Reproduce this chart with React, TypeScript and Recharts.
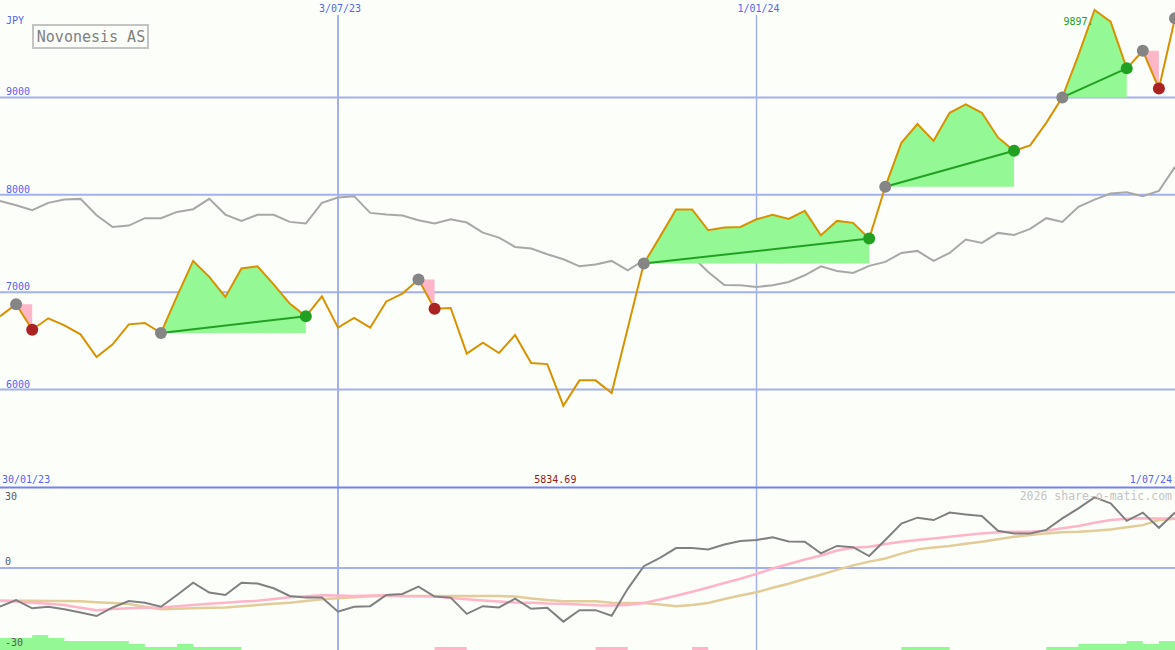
import React from "react";
import { Area, ComposedChart, Line, ReferenceDot, ReferenceLine, XAxis, YAxis } from "recharts";

const BG = "#fcfefa";
const GRID = "#a4b0f0";
const BLUE_TXT = "#5464f4";
const FONT = "'DejaVu Sans Mono', monospace";
const W = 1175;
const TOP_H = 487;
const BOTTOM_H = 163;

// weekly closes, one per week from the left edge
const price = [
  6752, 6876, 6615, 6732, 6660, 6567, 6334, 6465, 6670, 6684,
  6581, 6960, 7321, 7157, 6951, 7243, 7266, 7081, 6883, 6752,
  6958, 6636, 6735, 6636, 6905, 6986, 7130, 6831, 6838, 6369,
  6482, 6376, 6560, 6273, 6262, 5834.69, 6095, 6095, 5965, 6630,
  7294, 7568, 7849, 7849, 7636, 7664, 7670, 7749, 7794, 7753,
  7835, 7585, 7732, 7712, 7551, 8082, 8534, 8726, 8554, 8842,
  8928, 8842, 8589, 8452, 8507, 8739, 9000, 9435, 9897.3, 9777,
  9298, 9479, 9092, 9812,
];

const average = [
  7937, 7893, 7842, 7917, 7951, 7958, 7790, 7670, 7684, 7760,
  7760, 7824, 7852, 7958, 7797, 7732, 7794, 7794, 7722, 7705,
  7917, 7972, 7986, 7814, 7797, 7787, 7739, 7705, 7749, 7715,
  7612, 7561, 7465, 7448, 7390, 7338, 7266, 7284, 7321, 7225,
  7328, 7379, 7362, 7369, 7208, 7074, 7071, 7054, 7071, 7105,
  7174, 7266, 7218, 7198, 7270, 7311, 7403, 7424, 7321, 7403,
  7541, 7506, 7609, 7588, 7650, 7760, 7722, 7876, 7951, 8013,
  8027, 7986, 8040, 8287,
];

const momentum = [
  -14.5, -12.0, -15.1, -14.5, -15.5, -16.7, -18.0, -14.8, -12.4, -13.0,
  -14.5, -10.1, -5.5, -9.2, -10.1, -5.5, -5.8, -7.6, -10.5, -11.1,
  -11.1, -16.4, -14.5, -14.3, -10.1, -9.7, -7.0, -10.7, -11.1, -17.2,
  -14.3, -14.8, -11.5, -15.3, -14.9, -20.1, -15.8, -15.8, -17.9, -7.8,
  0.7, 3.8, 7.5, 7.5, 7.0, 8.8, 10.1, 10.5, 11.5, 10.0,
  9.9, 5.5, 8.3, 7.8, 4.5, 10.5, 16.7, 18.9, 18.0, 20.8,
  20.1, 19.5, 14.0, 13.0, 13.0, 14.3, 18.6, 22.4, 26.5, 24.3,
  17.7, 20.8, 15.1, 20.8,
];

const signalFast = [
  -12.3, -12.6, -13.0, -13.4, -13.9, -14.9, -15.8, -15.4, -15.1, -14.9,
  -14.8, -14.3, -13.9, -13.4, -13.0, -12.6, -12.3, -11.6, -11.0, -10.6,
  -10.2, -10.3, -10.5, -10.3, -10.2, -10.5, -10.6, -10.7, -11.2, -11.7,
  -12.2, -12.6, -12.9, -13.0, -13.3, -13.4, -13.7, -14.0, -14.1, -13.9,
  -13.1, -11.8, -10.4, -8.9, -7.3, -5.6, -4.0, -2.2, -0.2, 1.5,
  3.2, 4.7, 6.6, 7.6, 8.0, 9.0, 9.9, 10.5, 11.1, 11.7,
  12.4, 13.0, 13.4, 13.6, 13.6, 14.0, 14.9, 15.8, 17.0, 18.0,
  18.5, 18.7, 18.6, 18.6,
];

const signalSlow = [
  -12.3, -12.3, -12.3, -12.4, -12.4, -12.5, -12.8, -13.1, -13.5, -14.5,
  -15.5, -15.3, -15.1, -14.9, -14.8, -14.3, -13.9, -13.4, -13.0, -12.4,
  -11.7, -11.3, -11.0, -10.6, -10.4, -10.5, -10.5, -10.5, -10.5, -10.5,
  -10.5, -10.5, -10.7, -11.4, -12.0, -12.5, -12.5, -12.5, -13.0, -13.1,
  -13.1, -13.7, -14.3, -13.9, -13.1, -11.6, -10.3, -9.1, -7.4, -5.9,
  -4.1, -2.5, -0.7, 1.0, 2.4, 3.6, 5.4, 7.0, 7.7, 8.3,
  9.1, 9.9, 10.8, 11.7, 12.4, 13.0, 13.4, 13.6, 14.0, 14.5,
  15.3, 16.1, 18.0, 18.5,
];

const barsUp = [
  4, 4, 5, 4, 3, 3, 3, 3, 2, 1,
  1, 2, 1, 1, 1, 0, 0, 0, 0, 0,
  0, 0, 0, 0, 0, 0, 0, 0, 0, 0,
  0, 0, 0, 0, 0, 0, 0, 0, 0, 0,
  0, 0, 0, 0, 0, 0, 0, 0, 0, 0,
  0, 0, 0, 0, 0, 0, 1, 1, 1, 0,
  0, 0, 0, 0, 0, 1, 1, 2, 2, 2,
  3, 2, 3, 3,
];

const barsDown = [
  0, 0, 0, 0, 0, 0, 0, 0, 0, 0,
  0, 0, 0, 0, 0, 0, 0, 0, 0, 0,
  0, 0, 0, 0, 0, 0, 0, 1, 1, 0,
  0, 0, 0, 0, 0, 0, 0, 1, 1, 0,
  0, 0, 0, 1, 0, 0, 0, 0, 0, 0,
  0, 0, 0, 0, 0, 0, 0, 0, 0, 0,
  0, 0, 0, 0, 0, 0, 0, 0, 0, 0,
  0, 0, 0, 0,
];

// entry week -> exit week
const trades = [
  { start: 1, end: 2 },
  { start: 10, end: 19 },
  { start: 26, end: 27 },
  { start: 40, end: 54 },
  { start: 55, end: 63 },
  { start: 66, end: 70 },
  { start: 71, end: 72 },
];
const openEntry = 73;

const dateTicks = [
  { week: 21, label: "3/07/23" },
  { week: 47, label: "1/01/24" },
];
const priceTicks = [6000, 7000, 8000, 9000];
const highWeek = 68;
const lowWeek = 35;

const isWin = (t: { start: number; end: number }) => price[t.end] > price[t.start];

const rows = price.map((p, i) => {
  const row: any = {
    i,
    price: p,
    average: average[i],
    momentum: momentum[i],
    fast: signalFast[i],
    slow: signalSlow[i],
    up: barsUp[i],
    down: barsDown[i],
    entry: trades.some((t) => t.start === i) || i === openEntry ? p : null,
    win: trades.some((t) => t.end === i && isWin(t)) ? p : null,
    loss: trades.some((t) => t.end === i && !isWin(t)) ? p : null,
  };
  trades.forEach((t, k) => {
    row[`band${k}`] = i >= t.start && i <= t.end ? [price[t.start], p] : null;
    row[`trend${k}`] = isWin(t) && (i === t.start || i === t.end) ? p : null;
  });
  return row;
});

const dotOf = (color: string) => (props: any) => {
  const { cx, cy, value, index } = props;
  if (value == null || cy == null || Number.isNaN(cy)) return <g key={`d${index}`} />;
  return <circle key={`d${index}`} cx={cx} cy={cy} r={6} fill={color} />;
};

const priceLabel = (text: string) => (props: any) => {
  const vb = props.viewBox || {};
  return (
    <text x={(vb.x ?? 0) + 6} y={(vb.y ?? 0) - 2} fill={BLUE_TXT} fontSize={10} fontFamily={FONT}>
      {text}
    </text>
  );
};

const dateLabel = (text: string) => (props: any) => {
  const x = props.viewBox?.x ?? 0;
  return (
    <g>
      <rect x={x - 24} y={0} width={50} height={15} fill={BG} />
      <text x={x + 2} y={12} textAnchor="middle" fill={BLUE_TXT} fontSize={10} fontFamily={FONT}>
        {text}
      </text>
    </g>
  );
};

const oscLabel = (text: string, dy: number) => (props: any) => {
  const vb = props.viewBox || {};
  return (
    <text x={(vb.x ?? 0) + 5} y={(vb.y ?? 0) + dy} fill="#5a5a5a" fontSize={10} fontFamily={FONT}>
      {text}
    </text>
  );
};

export default function App() {
  return (
    <div style={{ position: "absolute", left: 0, top: 0, width: W, height: 650, background: BG, overflow: "hidden" }}>
      <div style={{ position: "absolute", left: 0, top: 0 }}>
        <ComposedChart width={W} height={TOP_H} data={rows} margin={{ top: 0, right: 0, bottom: 0, left: 0 }}>
          <XAxis dataKey="i" type="number" domain={[0, 73]} hide />
          <YAxis yAxisId="m" type="number" domain={[5000, 10000]} hide allowDataOverflow />
          {priceTicks.map((v) => (
            <ReferenceLine key={v} yAxisId="m" y={v} stroke={GRID} strokeWidth={2} zIndex={-100} label={priceLabel(String(v))} />
          ))}
          {dateTicks.map((d, k) => (
            <ReferenceLine key={d.label} yAxisId="m" x={d.week} stroke={GRID} strokeWidth={k === 0 ? 2 : 1.5} zIndex={-100} label={dateLabel(d.label)} />
          ))}
          <Line yAxisId="m" dataKey="average" stroke="#a8a8a8" strokeWidth={2} dot={false} activeDot={false} isAnimationActive={false} zIndex={50} />
          {trades.map((t, k) => (
            <Area
              key={`band${k}`}
              yAxisId="m"
              dataKey={`band${k}`}
              type="linear"
              stroke="none"
              fill={isWin(t) ? "#94f894" : "#ffb6c8"}
              fillOpacity={1}
              isAnimationActive={false}
              activeDot={false}
              zIndex={100}
            />
          ))}
          {trades.map((t, k) =>
            isWin(t) ? (
              <Line key={`trend${k}`} yAxisId="m" dataKey={`trend${k}`} stroke="#22a022" strokeWidth={2} connectNulls dot={false} activeDot={false} isAnimationActive={false} zIndex={400} />
            ) : null
          )}
          <Line yAxisId="m" dataKey="entry" stroke="none" dot={dotOf("#858585")} activeDot={false} isAnimationActive={false} zIndex={420} />
          <Line yAxisId="m" dataKey="loss" stroke="none" dot={dotOf("#aa2222")} activeDot={false} isAnimationActive={false} zIndex={420} />
          <Line yAxisId="m" dataKey="price" stroke="#d89200" strokeWidth={2} dot={false} activeDot={false} isAnimationActive={false} zIndex={450} />
          <Line yAxisId="m" dataKey="win" stroke="none" dot={dotOf("#22a022")} activeDot={false} isAnimationActive={false} zIndex={500} />
          <ReferenceDot
            yAxisId="m"
            x={highWeek}
            y={price[highWeek]}
            r={0}
            fill="none"
            stroke="none"
            zIndex={2000}
            label={(p: any) => (
              <text x={(p.viewBox?.x ?? 0) + (p.viewBox?.width ?? 0) / 2 - 1} y={(p.viewBox?.y ?? 0) + 15} textAnchor="end" fill="#20a020" fontSize={10} fontFamily={FONT}>
                {String(price[highWeek]).slice(0, 5)}
              </text>
            )}
          />
          <ReferenceDot
            yAxisId="m"
            x={lowWeek}
            y={price[lowWeek]}
            r={0}
            fill="none"
            stroke="none"
            zIndex={2000}
            label={(p: any) => (
              <text x={(p.viewBox?.x ?? 0) + (p.viewBox?.width ?? 0) / 2 - 8} y={483} textAnchor="middle" fill="#a01818" fontSize={10} fontFamily={FONT}>
                {price[lowWeek].toFixed(2)}
              </text>
            )}
          />
        </ComposedChart>
      </div>

      <div style={{ position: "absolute", left: 0, top: TOP_H }}>
        <ComposedChart width={W} height={BOTTOM_H} data={rows} margin={{ top: 0, right: 0, bottom: 0, left: 0 }}>
          <XAxis dataKey="i" type="number" domain={[0, 73]} hide />
          <YAxis yAxisId="m" type="number" domain={[-30.75, 30.4]} hide allowDataOverflow />
          <YAxis yAxisId="h" type="number" domain={[0, 54.3]} hide allowDataOverflow />
          <ReferenceLine yAxisId="m" y={0} stroke={GRID} strokeWidth={2} zIndex={-100} label={oscLabel("0", -3)} />
          <ReferenceLine yAxisId="m" y={30} stroke="none" label={oscLabel("30", 12)} />
          <ReferenceLine yAxisId="m" y={-30} stroke="none" label={oscLabel("-30", -2)} />
          {dateTicks.map((d, k) => (
            <ReferenceLine key={d.label} yAxisId="m" x={d.week} stroke={GRID} strokeWidth={k === 0 ? 2 : 1.5} zIndex={-100} />
          ))}
          <Area yAxisId="h" dataKey="up" type="stepAfter" stroke="none" fill="#94f894" fillOpacity={1} activeDot={false} isAnimationActive={false} />
          <Area yAxisId="h" dataKey="down" type="stepAfter" stroke="none" fill="#ffb6c8" fillOpacity={1} activeDot={false} isAnimationActive={false} />
          <Line yAxisId="m" dataKey="slow" stroke="#e2cc98" strokeWidth={2.5} dot={false} activeDot={false} isAnimationActive={false} />
          <Line yAxisId="m" dataKey="fast" stroke="#ffb4c8" strokeWidth={2.5} dot={false} activeDot={false} isAnimationActive={false} />
          <Line yAxisId="m" dataKey="momentum" stroke="#808080" strokeWidth={2} dot={false} activeDot={false} isAnimationActive={false} />
        </ComposedChart>
      </div>

      <svg width={W} height={650} style={{ position: "absolute", left: 0, top: 0, pointerEvents: "none" }}>
        <line x1={0} x2={W} y1={487.5} y2={487.5} stroke="#7482f0" strokeWidth={2} />
        <text x={6} y={24} fill={BLUE_TXT} fontSize={10} fontFamily={FONT}>JPY</text>
        <rect x={33} y={25} width={115} height={23} fill={BG} stroke="#c4c4c4" strokeWidth={2} />
        <text x={91} y={42} textAnchor="middle" fill="#808080" fontSize={15} fontFamily={FONT}>Novonesis AS</text>
        <text x={2} y={483} fill={BLUE_TXT} fontSize={10} fontFamily={FONT}>30/01/23</text>
        <text x={1172} y={483} textAnchor="end" fill={BLUE_TXT} fontSize={10} fontFamily={FONT}>1/07/24</text>
        <text x={1172} y={500} textAnchor="end" fill="#c4c4c4" fontSize={11.5} fontFamily={FONT}>2026 share-o-matic.com</text>
      </svg>
    </div>
  );
}
